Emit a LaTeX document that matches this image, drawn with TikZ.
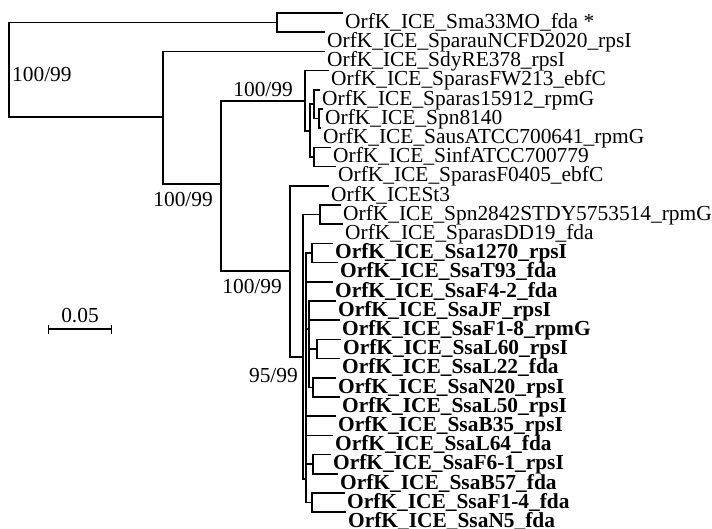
\documentclass[tikz,border=0pt]{standalone}
\usepackage{fontspec}
\setmainfont{Liberation Serif}
\usetikzlibrary{arrows.meta}
\begin{document}
\begin{tikzpicture}[x=1pt, y=-1pt,
  branch/.style={black, line width=1.6pt},
  taxon/.style={anchor=north west, inner xsep=2pt, inner ysep=0pt, font=\fontsize{21.4}{24}\selectfont},
  ssa/.style={taxon, font=\fontsize{21.4}{24}\selectfont\bfseries},
  support/.style={inner sep=0pt, font=\fontsize{21.4}{24}\selectfont}]
\useasboundingbox (0,0) rectangle (712,529);
\coordinate (root) at (9,70);
\coordinate (n277) at (277,22.6);
\coordinate (n163) at (163,117);
\coordinate (n221) at (221,184);
\coordinate (n305) at (305,101);
\coordinate (n310) at (310,131);
\coordinate (n314) at (314,104);
\coordinate (n319) at (319,118.6);
\coordinate (n314s) at (314,157);
\coordinate (n290) at (290,271);
\coordinate (n303) at (303,357);
\coordinate (n320) at (320,214.6);
\coordinate (n306) at (306,479);
\coordinate (n312) at (312,253);
\coordinate (n309) at (309,329);
\coordinate (n317) at (317,349);
\coordinate (n313) at (313,387.4);
\coordinate (n313s) at (313,464.2);
\coordinate (n312s) at (312,502.6);
\node[taxon] (Sma33MO) at (343,13) {OrfK\_ICE\_Sma33MO\_fda *};
\node[taxon] (SparauNCFD2020) at (325,32.2) {OrfK\_ICE\_SparauNCFD2020\_rpsI};
\node[taxon] (SdyRE378) at (325,51.4) {OrfK\_ICE\_SdyRE378\_rpsI};
\node[taxon] (SparasFW213) at (329,70.6) {OrfK\_ICE\_SparasFW213\_ebfC};
\node[taxon] (Sparas15912) at (320,89.8) {OrfK\_ICE\_Sparas15912\_rpmG};
\node[taxon] (Spn8140) at (323,109) {OrfK\_ICE\_Spn8140};
\node[taxon] (SausATCC700641) at (321,128.2) {OrfK\_ICE\_SausATCC700641\_rpmG};
\node[taxon] (SinfATCC700779) at (331,147.4) {OrfK\_ICE\_SinfATCC700779};
\node[taxon] (SparasF0405) at (336,166.6) {OrfK\_ICE\_SparasF0405\_ebfC};
\node[taxon] (ICESt3) at (329,185.8) {OrfK\_ICESt3};
\node[taxon] (Spn2842) at (341,205) {OrfK\_ICE\_Spn2842STDY5753514\_rpmG};
\node[taxon] (SparasDD19) at (343,224.2) {OrfK\_ICE\_SparasDD19\_fda};
\node[ssa] (Ssa1270) at (333,243.4) {OrfK\_ICE\_Ssa1270\_rpsI};
\node[ssa] (SsaT93) at (338,262.6) {OrfK\_ICE\_SsaT93\_fda};
\node[ssa] (SsaF42) at (333,281.8) {OrfK\_ICE\_SsaF4-2\_fda};
\node[ssa] (SsaJF) at (336,301) {OrfK\_ICE\_SsaJF\_rpsI};
\node[ssa] (SsaF18) at (340,320.2) {OrfK\_ICE\_SsaF1-8\_rpmG};
\node[ssa] (SsaL60) at (341,339.4) {OrfK\_ICE\_SsaL60\_rpsI};
\node[ssa] (SsaL22) at (340,358.6) {OrfK\_ICE\_SsaL22\_fda};
\node[ssa] (SsaN20) at (336,377.8) {OrfK\_ICE\_SsaN20\_rpsI};
\node[ssa] (SsaL50) at (340,397) {OrfK\_ICE\_SsaL50\_rpsI};
\node[ssa] (SsaB35) at (336,416.2) {OrfK\_ICE\_SsaB35\_rpsI};
\node[ssa] (SsaL64) at (333,435.4) {OrfK\_ICE\_SsaL64\_fda};
\node[ssa] (SsaF61) at (331,454.6) {OrfK\_ICE\_SsaF6-1\_rpsI};
\node[ssa] (SsaB57) at (338,473.8) {OrfK\_ICE\_SsaB57\_fda};
\node[ssa] (SsaF14) at (345,493) {OrfK\_ICE\_SsaF1-4\_fda};
\node[ssa] (SsaN5) at (346,512.2) {OrfK\_ICE\_SsaN5\_fda};
\draw[branch] (root) |- (n277) (root) |- (n163);
\draw[branch] (n277) |- (Sma33MO.north west) (n277) |- (SparauNCFD2020.north west);
\draw[branch] (n163) |- (SdyRE378.north west) (n163) |- (n221);
\draw[branch] (n221) |- (n305) (n221) |- (n290);
\draw[branch] (n305) |- (SparasFW213.north west) (n305) |- (n310);
\draw[branch] (n310) |- (n314) (n310) |- (n314s);
\draw[branch] (n314) |- (Sparas15912.north west) (n314) |- (n319);
\draw[branch] (n319) |- (Spn8140.north west) (n319) |- (SausATCC700641.north west);
\draw[branch] (n314s) |- (SinfATCC700779.north west) (n314s) |- (SparasF0405.north west);
\draw[branch] (n290) |- (ICESt3.north west) (n290) |- (n303);
\draw[branch] (n303) |- (n320) (n303) |- (n306);
\draw[branch] (n320) |- (Spn2842.north west) (n320) |- (SparasDD19.north west);
\draw[branch] (n306) |- (n312) (n306) |- (SsaF42.north west) (n306) |- (n309) (n306) |- (SsaB35.north west) (n306) |- (SsaL64.north west) (n306) |- (n313s) (n306) |- (n312s);
\draw[branch] (n312) |- (Ssa1270.north west) (n312) |- (SsaT93.north west);
\draw[branch] (n309) |- (SsaJF.north west) (n309) |- (SsaF18.north west) (n309) |- (n317) (n309) |- (n313);
\draw[branch] (n317) |- (SsaL60.north west) (n317) |- (SsaL22.north west);
\draw[branch] (n313) |- (SsaN20.north west) (n313) |- (SsaL50.north west);
\draw[branch] (n313s) |- (SsaF61.north west) (n313s) |- (SsaB57.north west);
\draw[branch] (n312s) |- (SsaF14.north west) (n312s) |- (SsaN5.north west);
\node[support, anchor=base west] (bsRoot) at (12,82) {100/99};
\node[support, anchor=base east] (bsSparas) at (293,97) {100/99};
\node[support, anchor=base east] (bsStrep) at (213,207) {100/99};
\node[support, anchor=base east] (bsSt3) at (282,294) {100/99};
\node[support, anchor=base east] (bsSsa) at (298,382) {95/99};
\coordinate (bar0) at (48,329);
\coordinate (bar1) at (112,329);
\draw[branch, line width=1.4pt, {Bar[width=9pt]}-{Bar[width=9pt]}] (bar0) -- (bar1);
\node[support, anchor=base] (scale) at (80,323) {0.05};
\end{tikzpicture}
\end{document}
